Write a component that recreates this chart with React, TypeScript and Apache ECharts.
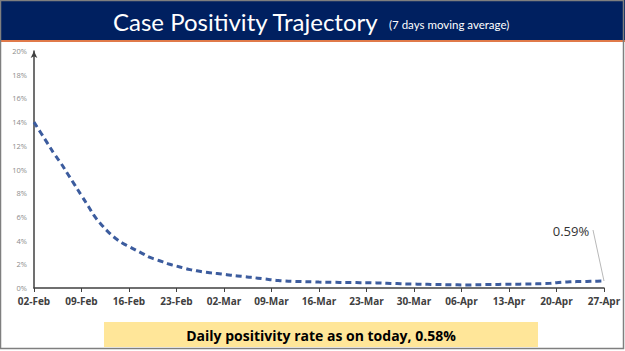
import React, { useEffect, useRef } from "react";
import * as echarts from "echarts";

const weekLabels = ["02-Feb", "09-Feb", "16-Feb", "23-Feb", "02-Mar", "09-Mar", "16-Mar", "23-Mar", "30-Mar", "06-Apr", "13-Apr", "20-Apr", "27-Apr"];

// daily 7-day moving average positivity (%), 02-Feb .. 27-Apr
const positivity = [
  14.0, 13.1, 12.2, 11.3, 10.5, 9.6, 8.7,
  7.8, 6.9, 6.0, 5.3, 4.7, 4.2, 3.8,
  3.5, 3.2, 2.9, 2.6, 2.4, 2.2, 2.0,
  1.85, 1.7, 1.55, 1.45, 1.35, 1.28, 1.22,
  1.15, 1.08, 1.02, 0.96, 0.9, 0.83, 0.76,
  0.7, 0.64, 0.6, 0.57, 0.55, 0.53, 0.52,
  0.5, 0.49, 0.48, 0.47, 0.46, 0.46, 0.45,
  0.45, 0.44, 0.42, 0.4, 0.38, 0.36, 0.34,
  0.33, 0.32, 0.31, 0.3, 0.29, 0.28, 0.27,
  0.26, 0.26, 0.27, 0.28, 0.29, 0.3, 0.31,
  0.32, 0.32, 0.33, 0.34, 0.35, 0.37, 0.39,
  0.45, 0.5, 0.52, 0.54, 0.55, 0.56, 0.57,
  0.59,
];

const monthDays: [string, number][] = [["Feb", 28], ["Mar", 31], ["Apr", 30]];
function buildDates(n: number): string[] {
  const out: string[] = [];
  let m = 0;
  let d = 2;
  for (let i = 0; i < n; i++) {
    out.push(String(d).padStart(2, "0") + "-" + monthDays[m][0]);
    d++;
    if (d > monthDays[m][1]) { d = 1; m++; }
  }
  return out;
}
const dates = buildDates(positivity.length);

const titleText = "Case Positivity Trajectory";
const subtitleText = "(7 days moving average)";
const footerText = "Daily positivity rate as on today, 0.58%";
const lastLabel = "0.59%";

export default function App() {
  const ref = useRef<HTMLDivElement>(null);
  useEffect(() => {
    if (!ref.current) return;
    const chart = echarts.init(ref.current, null, { renderer: "svg" });
    const last = positivity.length - 1;
    const lastCoord = [dates[last], positivity[last]];
    chart.setOption({
      animation: false,
      backgroundColor: "#ffffff",
      grid: { left: 34, right: 21, top: 51, bottom: 63, containLabel: false },
      xAxis: {
        type: "category",
        data: dates,
        boundaryGap: false,
        axisLine: { lineStyle: { color: "#404040", width: 1.5 } },
        axisTick: { interval: 6, length: 4, lineStyle: { color: "#404040" } },
        axisLabel: {
          interval: 6,
          color: "#404040",
          fontSize: 10,
          fontWeight: "bold",
          fontFamily: "Open Sans",
          margin: 8,
          formatter: (v: string) => (weekLabels.includes(v) ? v : ""),
        },
        splitLine: { show: false },
      },
      yAxis: {
        type: "value",
        min: 0,
        max: 20,
        interval: 2,
        axisLine: { show: true, symbol: ["none", "arrow"], symbolSize: [5, 7], lineStyle: { color: "#404040", width: 1.5 } },
        axisTick: { show: false },
        splitLine: { show: false },
        axisLabel: { color: "#8c8c8c", fontSize: 7.5, fontFamily: "Open Sans", margin: 7, formatter: (v: number) => v + "%" },
      },
      series: [
        {
          type: "line",
          data: positivity,
          showSymbol: false,
          symbol: "none",
          smooth: true,
          lineStyle: { color: "#3C5C9E", width: 3, type: [6, 4] },
          markPoint: {
            symbol: "circle",
            symbolSize: 0,
            silent: true,
            data: [
              {
                coord: lastCoord,
                label: {
                  show: true,
                  formatter: lastLabel,
                  color: "#333333",
                  fontSize: 13,
                  fontFamily: "Open Sans",
                  offset: [-33, -50],
                },
              },
            ],
          },
          markLine: {
            silent: true,
            symbol: ["none", "none"],
            label: { show: false },
            lineStyle: { color: "#b8b8b8", width: 1, type: "solid" },
            data: [[{ x: 593, y: 230 }, { coord: lastCoord }]],
          },
        },
      ],
      graphic: [
        { type: "rect", shape: { x: 0, y: 0, width: 625, height: 40 }, style: { fill: "#002060" }, silent: true },
        { type: "rect", shape: { x: 0, y: 40, width: 625, height: 2 }, style: { fill: "#E07A4A" }, silent: true },
        {
          type: "text",
          x: 113,
          y: 21,
          style: { text: titleText, fill: "#ffffff", fontSize: 24, fontFamily: "Lato", verticalAlign: "middle" },
        },
        {
          type: "text",
          x: 389,
          y: 24,
          style: { text: subtitleText, fill: "#ffffff", fontSize: 11.5, fontFamily: "Lato", verticalAlign: "middle" },
        },
        { type: "rect", shape: { x: 104, y: 322, width: 434, height: 25 }, style: { fill: "#FFE699" }, silent: true },
        {
          type: "text",
          x: 321,
          y: 335,
          style: { text: footerText, fill: "#000000", fontSize: 14, fontWeight: "bold", fontFamily: "Open Sans", align: "center", verticalAlign: "middle" },
        },
        { type: "rect", shape: { x: 0.5, y: 0.5, width: 623, height: 348 }, style: { fill: "none", stroke: "#7f7f7f", lineWidth: 1.5 }, silent: true },
      ],
    });
    return () => chart.dispose();
  }, []);
  return <div ref={ref} style={{ position: "absolute", left: 0, top: 0, width: 625, height: 351 }} />;
}
